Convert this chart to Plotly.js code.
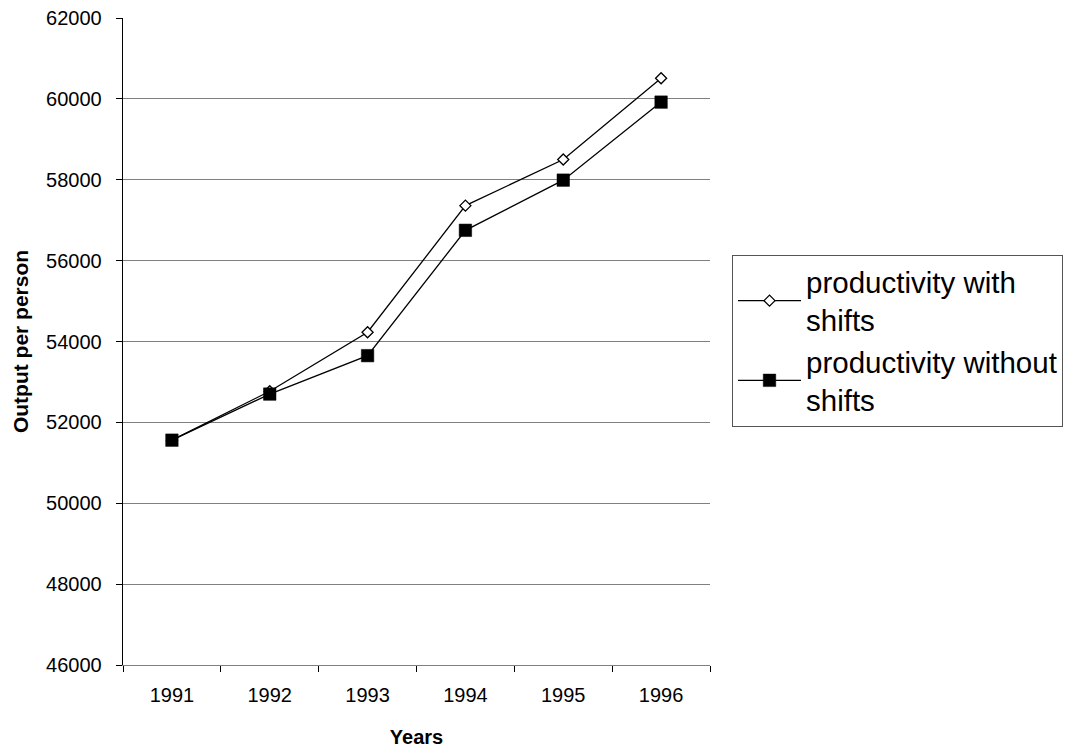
<!DOCTYPE html>
<html>
<head>
<meta charset="utf-8">
<script src="https://cdn.plot.ly/plotly-3.0.1.min.js"></script>
<style>html,body{margin:0;padding:0;background:#fff;}#chart{width:1075px;height:753px;}</style>
</head>
<body>
<div id="chart"></div>
<script>
const years = ['1991', '1992', '1993', '1994', '1995', '1996'];
const withShifts = [51560, 52770, 54230, 57360, 58500, 60510];
const withoutShifts = [51560, 52700, 53650, 56750, 57990, 59920];
const seriesNames = ['productivity with<br>shifts', 'productivity without<br>shifts'];
const yTicks = [46000, 48000, 50000, 52000, 54000, 56000, 58000, 60000, 62000];

const traces = [
  {
    x: years, y: withShifts, name: seriesNames[0], type: 'scatter', mode: 'lines+markers',
    line: {color: '#000', width: 1.3},
    marker: {symbol: 'diamond', size: 8.5, color: '#fff', line: {color: '#000', width: 1.3}}
  },
  {
    x: years, y: withoutShifts, name: seriesNames[1], type: 'scatter', mode: 'lines+markers',
    line: {color: '#000', width: 1.3},
    marker: {symbol: 'square', size: 12.5, color: '#000', line: {color: '#000', width: 0.5}}
  }
];

const layout = {
  width: 1075, height: 753,
  margin: {l: 123, r: 365, t: 18, b: 88},
  paper_bgcolor: '#fff', plot_bgcolor: '#fff',
  font: {family: 'Liberation Sans, Arial, sans-serif', color: '#000', size: 20},
  showlegend: true,
  legend: {
    x: 1.0375, y: 0.634, xanchor: 'left', yanchor: 'top',
    bordercolor: '#555', borderwidth: 1, bgcolor: '#fff',
    font: {size: 29.5, family: 'Liberation Sans, Arial, sans-serif'},
    tracegroupgap: 0, itemwidth: 63
  },
  xaxis: {
    type: 'category', range: [-0.5, 5.5],
    tickson: 'boundaries', ticks: 'outside', ticklen: 6, tickcolor: '#000',
    ticklabelstandoff: 12,
    showline: true, linecolor: '#808080', linewidth: 1.3, showgrid: false, zeroline: false,
    tickfont: {size: 20},
    title: {text: '<b>Years</b>', font: {size: 20}, standoff: 24}
  },
  yaxis: {
    range: [46000, 62000], tickvals: yTicks, ticktext: yTicks.map(String),
    ticks: 'outside', ticklen: 6, tickcolor: '#000',
    ticklabelstandoff: 10,
    showline: true, linecolor: '#000', linewidth: 1.3,
    showgrid: true, gridcolor: '#808080', gridwidth: 1.2, zeroline: false,
    tickfont: {size: 20},
    title: {text: '<b>Output per person</b>', font: {size: 21}, standoff: 11}
  }
};

Plotly.newPlot('chart', traces, layout, {staticPlot: true, displayModeBar: false});
</script>
</body>
</html>
